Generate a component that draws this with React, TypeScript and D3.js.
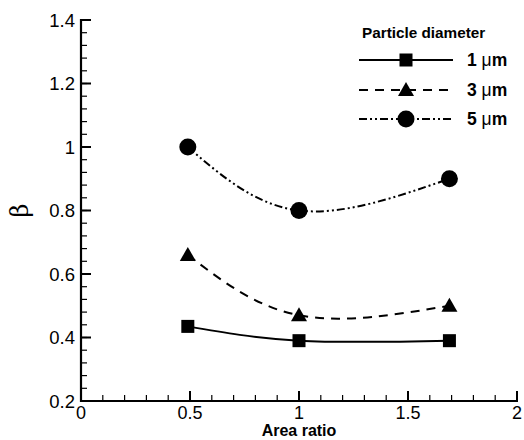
import React from "react";
import * as d3 from "d3";

const areaRatio = [0.49, 1.0, 1.69];
const beta1 = [0.435, 0.39, 0.39];
const beta3 = [0.66, 0.47, 0.5];
const beta5 = [1.0, 0.8, 0.9];
const seriesLabels = ["1", "3", "5"];
const xTicks = [0, 0.5, 1, 1.5, 2];
const yTicks = [0.2, 0.4, 0.6, 0.8, 1, 1.2, 1.4];

const W = 524, H = 440;
const x = d3.scaleLinear().domain([0, 2]).range([81, 517]);
const y = d3.scaleLinear().domain([0.2, 1.4]).range([401, 20]);

const series = [
  { vals: beta1, marker: "square", dash: "none", label: seriesLabels[0] },
  { vals: beta3, marker: "triangle", dash: "9,7", label: seriesLabels[1] },
  { vals: beta5, marker: "circle", dash: "8,3,2,3,2,3", label: seriesLabels[2] },
];

function Marker({ type, cx, cy }: { type: string; cx: number; cy: number }) {
  if (type === "square") return <rect x={cx - 6.5} y={cy - 6.5} width={13} height={13} fill="#000" />;
  if (type === "triangle") {
    const s = 8;
    return <path d={`M${cx},${cy - s} L${cx + s},${cy + s * 0.75} L${cx - s},${cy + s * 0.75}Z`} fill="#000" />;
  }
  return <circle cx={cx} cy={cy} r={8.5} fill="#000" />;
}

export default function App() {
  const line = d3
    .line<number>()
    .x((_, i) => x(areaRatio[i]))
    .y((d) => y(d))
    .curve(d3.curveNatural);
  const xMinor = d3.range(0, 2.0001, 0.1);
  const yMinor = d3.range(0.2, 1.4001, 0.04);
  const legendY = [60, 90, 119];
  return (
    <svg width={W} height={H} style={{ position: "absolute", left: 0, top: 0, background: "#fff" }}
      fontFamily="Liberation Sans, Arial, sans-serif">
      {series.map((s, k) => (
        <g key={k}>
          <path d={line(s.vals) || ""} fill="none" stroke="#000" strokeWidth={2}
            strokeDasharray={s.dash === "none" ? undefined : s.dash} />
          {s.vals.map((v, i) => (
            <Marker key={i} type={s.marker} cx={x(areaRatio[i])} cy={y(v)} />
          ))}
        </g>
      ))}
      {xMinor.map((t, i) => (
        <line key={"xm" + i} x1={x(t)} x2={x(t)} y1={y(0.2)} y2={y(0.2) - 6} stroke="#000" strokeWidth={1.2} />
      ))}
      {xTicks.map((t, i) => (
        <g key={"xt" + i}>
          <line x1={x(t)} x2={x(t)} y1={y(0.2)} y2={y(0.2) - 10} stroke="#000" strokeWidth={2} />
          <text x={x(t)} y={y(0.2) + 18} fontSize={18} textAnchor="middle">{String(t)}</text>
        </g>
      ))}
      {yMinor.map((t, i) => (
        <line key={"ym" + i} x1={x(0)} x2={x(0) + 6} y1={y(t)} y2={y(t)} stroke="#000" strokeWidth={1.2} />
      ))}
      {yTicks.map((t, i) => (
        <g key={"yt" + i}>
          <line x1={x(0)} x2={x(0) + 10} y1={y(t)} y2={y(t)} stroke="#000" strokeWidth={2} />
          <text x={x(0) - 6} y={y(t) + 6.5} fontSize={18.5} textAnchor="end">{String(t)}</text>
        </g>
      ))}
      <line x1={x(0)} x2={x(0)} y1={y(1.4) - 1} y2={y(0.2) + 1} stroke="#000" strokeWidth={2.2} />
      <line x1={x(0) - 1} x2={x(2) + 1} y1={y(0.2)} y2={y(0.2)} stroke="#000" strokeWidth={2.2} />
      <text x={x(1)} y={436} fontSize={16} fontWeight="bold" textAnchor="middle">Area ratio</text>
      <text transform={`translate(28,${y(0.8)}) rotate(-90)`} fontSize={24} textAnchor="middle"
        fontFamily="DejaVu Serif, serif">β</text>
      <text x={362} y={38} fontSize={15.3} fontWeight="bold">Particle diameter</text>
      {series.map((s, k) => (
        <g key={"lg" + k}>
          <line x1={359} x2={453} y1={legendY[k]} y2={legendY[k]} stroke="#000" strokeWidth={2}
            strokeDasharray={s.dash === "none" ? undefined : s.dash} />
          <Marker type={s.marker} cx={406} cy={legendY[k]} />
          <text x={467} y={legendY[k] + 6} fontSize={17.5} fontWeight="bold">
            {s.label} <tspan fontWeight="normal">μ</tspan>m
          </text>
        </g>
      ))}
    </svg>
  );
}
